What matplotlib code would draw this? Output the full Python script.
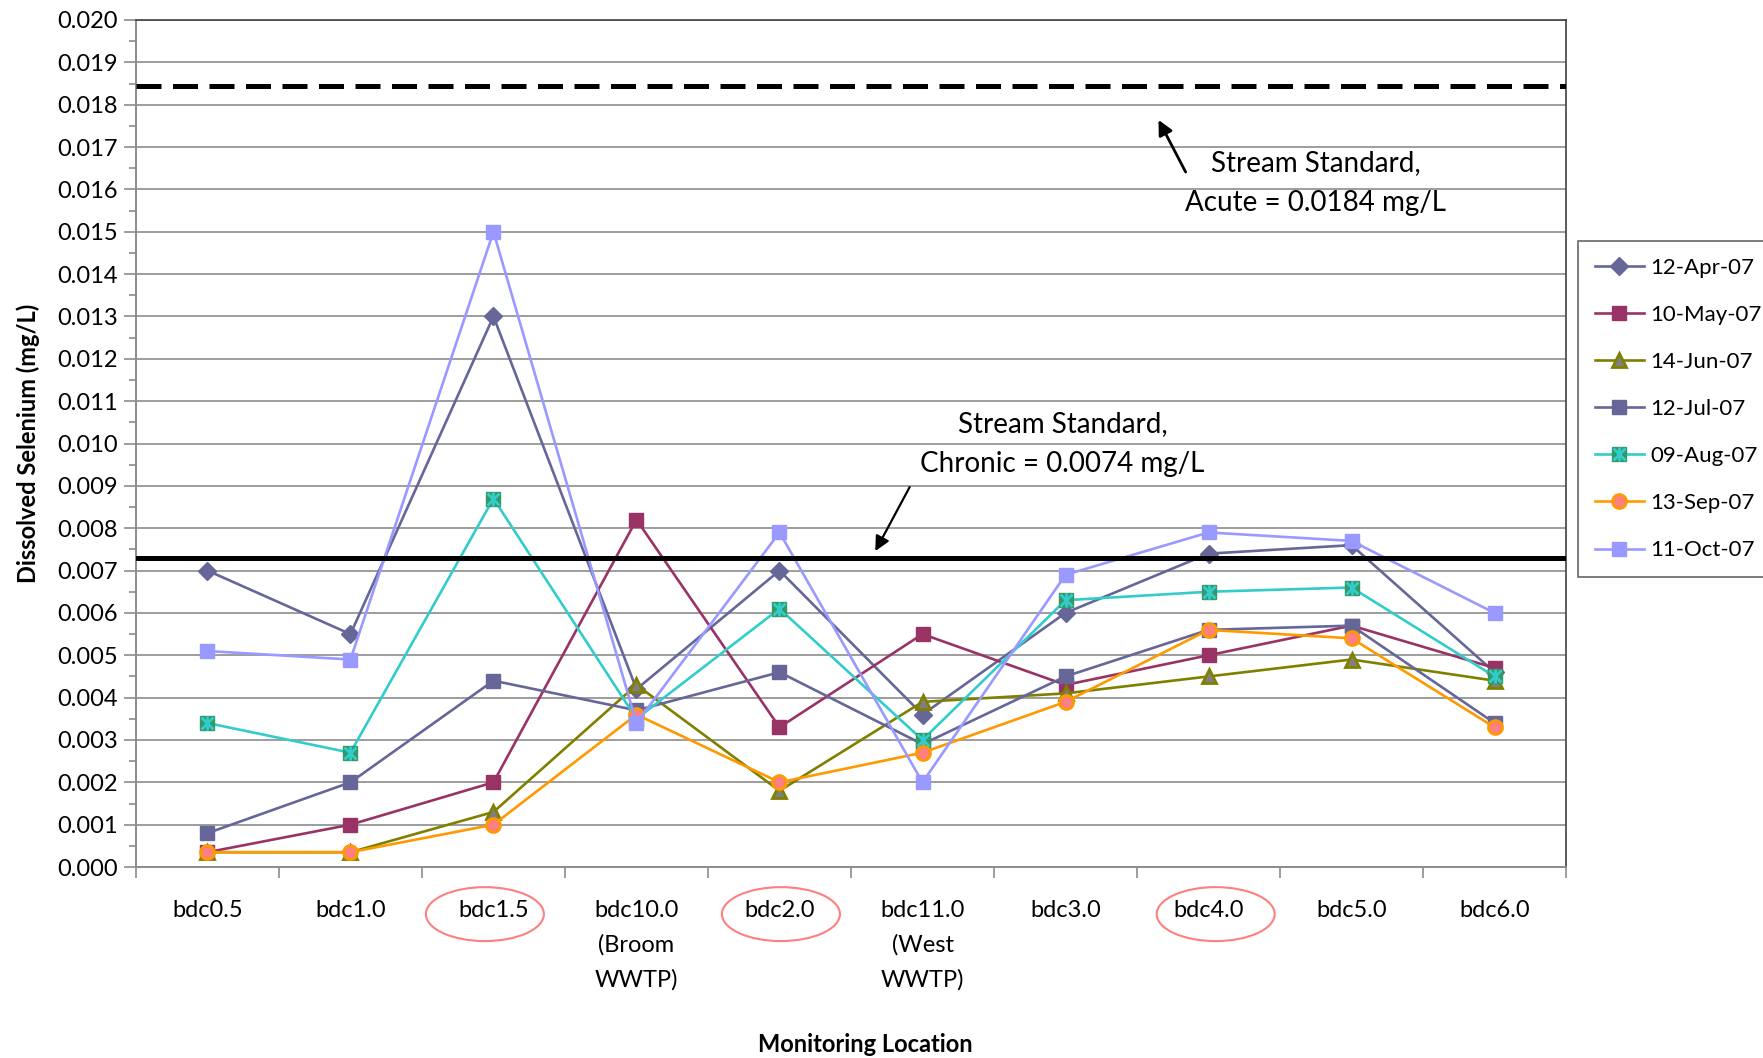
import numpy as np
import matplotlib
matplotlib.use("Agg")
import matplotlib.pyplot as plt
from matplotlib.patches import Ellipse
from matplotlib.transforms import blended_transform_factory
from matplotlib.ticker import MultipleLocator

plt.rcParams['font.family'] = ['Lato', 'DejaVu Sans']

locations = ["bdc0.5", "bdc1.0", "bdc1.5", "bdc10.0\n(Broom\nWWTP)", "bdc2.0",
             "bdc11.0\n(West\nWWTP)", "bdc3.0", "bdc4.0", "bdc5.0", "bdc6.0"]
circled = [2, 4, 7]

apr12 = [0.0070, 0.0055, 0.0130, 0.0042, 0.0070, 0.0036, 0.0060, 0.0074, 0.0076, 0.0046]
may10 = [0.00035, 0.0010, 0.0020, 0.0082, 0.0033, 0.0055, 0.0043, 0.0050, 0.0057, 0.0047]
jun14 = [0.00035, 0.00035, 0.0013, 0.0043, 0.0018, 0.0039, 0.0041, 0.0045, 0.0049, 0.0044]
jul12 = [0.0008, 0.0020, 0.0044, 0.0037, 0.0046, 0.0029, 0.0045, 0.0056, 0.0057, 0.0034]
aug09 = [0.0034, 0.0027, 0.0087, 0.0035, 0.0061, 0.0030, 0.0063, 0.0065, 0.0066, 0.0045]
sep13 = [0.00035, 0.00035, 0.0010, 0.0036, 0.0020, 0.0027, 0.0039, 0.0056, 0.0054, 0.0033]
oct11 = [0.0051, 0.0049, 0.0150, 0.0034, 0.0079, 0.0020, 0.0069, 0.0079, 0.0077, 0.0060]

acute = 0.01845
chronic = 0.0073

x = np.arange(len(locations))

fig = plt.figure(figsize=(17.63, 10.58), dpi=100)
ax = fig.add_axes([0.0771, 0.1805, 0.8112, 0.8006])

lw = 1.9
ms = 10
h_apr, = ax.plot(x, apr12, color='#666699', lw=lw, marker='D', ms=ms * 0.9,
                 mfc='#666699', mec='#666699')
h_may, = ax.plot(x, may10, color='#993366', lw=lw, marker='s', ms=ms,
                 mfc='#993366', mec='#993366')
h_jun, = ax.plot(x, jun14, color='#808000', lw=lw, marker='^', ms=ms * 1.05,
                 mfc='#808080', mec='#808000', mew=2)
h_jul, = ax.plot(x, jul12, color='#666699', lw=lw, marker='s', ms=ms,
                 mfc='#666699', mec='#666699')
h_aug, = ax.plot(x, aug09, color='#33CCCC', lw=lw, marker='s', ms=ms,
                 mfc='#339966', mec='#339966')
# asterisk-like overlay on the Aug markers
h_aug_x, = ax.plot(x, aug09, ls='none', marker='x', ms=ms * 0.85, mec='#33CCCC', mew=2)
h_aug_v, = ax.plot(x, aug09, ls='none', marker='|', ms=ms, mec='#33CCCC', mew=2)
h_sep, = ax.plot(x, sep13, color='#FF9900', lw=lw, marker='o', ms=ms,
                 mfc='#FF8080', mec='#FF9900', mew=2)
h_oct, = ax.plot(x, oct11, color='#9999FF', lw=lw, marker='s', ms=ms,
                 mfc='#9999FF', mec='#9999FF')

# stream standards
ax.axhline(acute, color='black', lw=3.6, ls=(0, (5, 2.3)), zorder=5)
ax.axhline(chronic, color='black', lw=3.6, zorder=5)

ax.set_xlim(-0.5, len(locations) - 0.5)
ax.set_ylim(0, 0.020)
ax.yaxis.set_major_locator(MultipleLocator(0.001))
ax.yaxis.set_minor_locator(MultipleLocator(0.0005))
ax.yaxis.set_major_formatter(plt.FuncFormatter(lambda v, p: f"{v:.3f}"))
ax.grid(axis='y', color='#8c8c8c', lw=1.2)
ax.set_axisbelow(True)

ax.set_xticks(x)
ax.set_xticklabels(locations, fontsize=17, linespacing=1.75, va='top')
ax.set_xticks(np.arange(len(locations) + 1) - 0.5, minor=True)
ax.tick_params(axis='x', which='major', length=0, pad=24)
ax.tick_params(axis='x', which='minor', length=8, width=1.2, color='#8c8c8c', direction='out')
ax.tick_params(axis='y', which='major', length=9, width=1.2, color='#8c8c8c',
               labelsize=17, pad=4)
ax.tick_params(axis='y', which='minor', length=5, width=1.2, color='#8c8c8c')

for s in ['left', 'bottom']:
    ax.spines[s].set_color('#8c8c8c')
    ax.spines[s].set_linewidth(1.4)
for s in ['top', 'right']:
    ax.spines[s].set_color('#404040')
    ax.spines[s].set_linewidth(1.2)

ax.set_ylabel("Dissolved Selenium (mg/L)", fontsize=17, fontweight='bold', labelpad=12)
fig.text(0.491, 1 - 1045 / 1058, "Monitoring Location", fontsize=17, fontweight='bold',
         ha='center', va='center')

ax.text(7.75, 0.01615, "Stream Standard,\nAcute = 0.0184 mg/L", fontsize=20,
        ha='center', va='center', linespacing=1.7)
ax.annotate("", xy=(6.65, 0.01764), xytext=(6.84, 0.01641),
            arrowprops=dict(arrowstyle='-|>', color='black', lw=2,
                            mutation_scale=22, shrinkA=0, shrinkB=0))
ax.text(5.98, 0.00999, "Stream Standard,\nChronic = 0.0074 mg/L", fontsize=20,
        ha='center', va='center', linespacing=1.65)
ax.annotate("", xy=(4.67, 0.00746), xytext=(4.91, 0.00897),
            arrowprops=dict(arrowstyle='-|>', color='black', lw=1.6,
                            mutation_scale=22, shrinkA=0, shrinkB=0))

# red circles around some location labels
trans = blended_transform_factory(ax.transData, fig.transFigure)
for i, cx in zip(circled, [1.94, 4.01, 7.05]):
    ax.add_patch(Ellipse((cx, 0.136), 0.825, 0.051, transform=trans, fill=False,
                         ec='#FF7F7F', lw=1.5, clip_on=False))

leg = fig.legend([h_apr, h_may, h_jun, h_jul, (h_aug, h_aug_x, h_aug_v), h_sep, h_oct],
                 ['12-Apr-07', '10-May-07', '14-Jun-07', '12-Jul-07', '09-Aug-07',
                  '13-Sep-07', '11-Oct-07'],
                 loc='upper left', bbox_to_anchor=(1578 / 1763, 1 - 241 / 1058),
                 fontsize=16, frameon=True, fancybox=False, edgecolor='#404040',
                 handlelength=2.2, handletextpad=0.3, labelspacing=1.22,
                 borderpad=0.75, borderaxespad=0)
leg.get_frame().set_linewidth(1.2)

fig.savefig("out.png", dpi=100)
